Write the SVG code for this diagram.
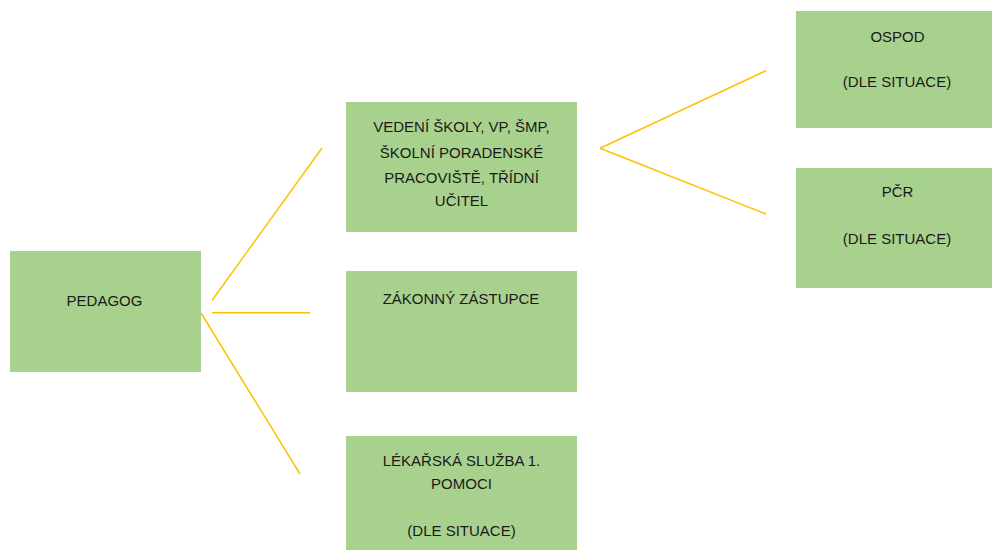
<svg xmlns="http://www.w3.org/2000/svg" width="992" height="550" viewBox="0 0 992 550">
<style>
.box{fill:#A9D18E;stroke:none}
.t{font-family:"Liberation Sans",Arial,sans-serif;font-size:15px;fill:#1a1a1a;text-anchor:middle}
.c{stroke:#FFC000;stroke-width:1.5;fill:none}
</style>
<rect width="992" height="550" fill="#ffffff"/>
<g id="connectors">
<line class="c" x1="212" y1="300.5" x2="322" y2="148"/>
<line class="c" x1="212" y1="312.7" x2="310" y2="312.7" stroke-width="2"/>
<line class="c" x1="201" y1="313" x2="300" y2="474"/>
<line class="c" x1="600" y1="148.3" x2="766" y2="70.7"/>
<line class="c" x1="600" y1="148.3" x2="766" y2="214"/>
</g>
<g id="pedagog">
<rect class="box" x="10" y="251" width="191" height="121"/>
<text class="t" x="104.5" y="306">PEDAGOG</text>
</g>
<g id="vedeni">
<rect class="box" x="346" y="102" width="231" height="130"/>
<text class="t" x="461.5" y="132.3">VEDENÍ ŠKOLY, VP, ŠMP,</text>
<text class="t" x="461.5" y="157.5">ŠKOLNÍ PORADENSKÉ</text>
<text class="t" x="461.5" y="183">PRACOVIŠTĚ, TŘÍDNÍ</text>
<text class="t" x="461.5" y="205.5">UČITEL</text>
</g>
<g id="zakonny">
<rect class="box" x="346" y="271" width="231" height="121"/>
<text class="t" x="461" y="304">ZÁKONNÝ ZÁSTUPCE</text>
</g>
<g id="lekarska">
<rect class="box" x="346" y="436" width="231" height="114"/>
<text class="t" x="461.5" y="465.5">LÉKAŘSKÁ SLUŽBA 1.</text>
<text class="t" x="461.5" y="489.3">POMOCI</text>
<text class="t" x="461.5" y="535.5">(DLE SITUACE)</text>
</g>
<g id="ospod">
<rect class="box" x="796" y="11" width="202" height="117"/>
<text class="t" x="897.5" y="41.7">OSPOD</text>
<text class="t" x="897" y="87.3">(DLE SITUACE)</text>
</g>
<g id="pcr">
<rect class="box" x="796" y="168" width="202" height="120"/>
<text class="t" x="897.5" y="197">PČR</text>
<text class="t" x="897" y="243.5">(DLE SITUACE)</text>
</g>
</svg>
